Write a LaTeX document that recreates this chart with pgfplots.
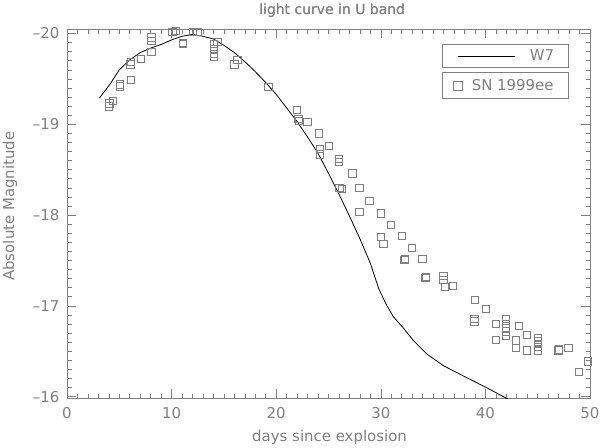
\documentclass[border=0pt]{standalone}
\usepackage{pgfplots}
\pgfplotsset{compat=1.18}
\usepackage{fontspec}
\setmainfont{DejaVu Sans}
\definecolor{fg}{gray}{0.5}
\definecolor{sq}{gray}{0.5}
\newcommand{\lf}{\fontsize{15}{18}\selectfont}
\pgfplotsset{
  myax/.style={
    at={(67bp,50bp)}, anchor=south west,
    scale only axis, width=523bp, height=369bp,
    xmin=0, xmax=50, ymin=-20.05, ymax=-15.985, y dir=reverse,
    xtick={0,10,20,30,40,50}, xticklabels={0,10,20,30,40,50},
    minor x tick num=9,
    ytick={-20,-19,-18,-17,-16},
    yticklabels={\textendash20,\textendash19,\textendash18,\textendash17,\textendash16},
    minor y tick num=9,
    tick align=inside,
    major tick length=9bp, minor tick length=4.5bp,
    axis line style={fg, line width=0.7bp},
    every tick/.style={fg, line width=0.6bp},
    tick label style={font=\lf, text=fg},
    xticklabel style={yshift=-6bp},
    yticklabel style={xshift=-4bp},
    label style={font=\lf, text=fg},
    xlabel={days since explosion},
    ylabel={Absolute Magnitude},
    xlabel style={at={(axis description cs:0.502,-0.106)}, anchor=center},
    ylabel style={at={(axis description cs:-0.109,0.52)}, anchor=center},
    title={light curve in U band},
    title style={at={(axis description cs:0.507,1.033)}, anchor=center, yshift=0pt, font=\fontsize{14}{17}\selectfont, text=fg},
  }
}
\begin{document}
\begin{tikzpicture}
\useasboundingbox (0bp,0bp) rectangle (600bp,448bp);
\begin{axis}[myax,
  legend style={at={(axis description cs:0.96,0.959)}, anchor=north east,
    draw=fg, line width=0.6bp, fill=white, inner sep=0pt,
    nodes={inner sep=0pt, font=\lf, text=fg}},
  legend image code/.code={\path[draw=none, fill=none] (0bp,-11.65bp) rectangle (87bp,11.65bp);
    \draw[black, line width=0.8bp] (15bp,0bp) -- (72bp,0bp);},
]
\addplot[black, line width=0.8bp] coordinates {
(3.1,-19.29) (4.1,-19.44) (5.0,-19.60) (6.0,-19.71) (7.0,-19.79) (8.0,-19.84)
(9.0,-19.88) (10.0,-19.93) (11.0,-19.97) (12.0,-19.99) (13.0,-19.97) (14.0,-19.94)
(15.0,-19.87) (16.0,-19.79) (17.0,-19.69) (18.0,-19.58) (19.0,-19.46) (20.0,-19.33)
(21.0,-19.18) (22.0,-19.03) (23.0,-18.86) (24.0,-18.68) (25.0,-18.46) (26.0,-18.23)
(27.0,-17.99) (28.0,-17.74) (29.0,-17.47) (29.8,-17.19) (30.5,-17.02) (31.2,-16.88)
(32.2,-16.75) (33.1,-16.62) (34.4,-16.47) (36.0,-16.34) (38.2,-16.21) (40.1,-16.10)
(42.2,-15.97) (43.0,-15.92)
};
\addlegendentry{\makebox[39bp][l]{W7}}
\end{axis}
\begin{axis}[myax, hide axis,
  legend style={at={(axis description cs:0.96,0.884)}, anchor=north east,
    draw=fg, line width=0.6bp, fill=white, inner sep=0pt,
    nodes={inner sep=0pt, font=\lf, text=fg}},
  legend image code/.code={\path[draw=none, fill=none] (0bp,-13.3bp) rectangle (29bp,13.3bp);
    \path[draw=sq, line width=0.6bp, only marks, mark=square, mark size=4.5bp] plot coordinates {(15bp,0bp)};},
]
\addplot[only marks, mark=square, mark size=3.65bp, mark options={sq, line width=0.6bp}] coordinates {
(4.0,-19.20) (4.05,-19.23) (4.35,-19.26)
(5.07,-19.42) (5.07,-19.44)
(6.09,-19.49) (6.05,-19.66) (6.09,-19.69)
(7.04,-19.72) (8.06,-19.80) (8.06,-19.92) (8.06,-19.96)
(10.07,-20.02) (10.4,-20.03)
(11.06,-19.90) (11.08,-19.89)
(12.0,-20.02) (12.46,-20.02)
(14.05,-19.89) (14.05,-19.83) (14.05,-19.78) (14.05,-19.74) (14.37,-19.91)
(16.0,-19.66) (16.28,-19.71)
(19.25,-19.41)
(22.0,-19.16) (22.1,-19.06) (22.15,-19.04) (22.97,-19.03)
(24.06,-18.90) (24.19,-18.73) (24.19,-18.67) (25.0,-18.76)
(26.0,-18.62) (26.0,-18.59) (27.28,-18.46)
(26.03,-18.30) (26.26,-18.29) (27.95,-18.30)
(28.9,-18.16) (27.95,-18.04) (29.99,-18.02) (30.98,-17.89)
(29.99,-17.76) (30.24,-17.68) (32.0,-17.77) (32.99,-17.64)
(32.25,-17.51) (32.27,-17.52) (33.97,-17.52)
(34.25,-17.31) (34.28,-17.32)
(35.98,-17.33) (35.98,-17.29) (36.1,-17.21) (36.9,-17.22)
(38.98,-17.07) (40.03,-16.97) (38.94,-16.86) (38.94,-16.83)
(40.98,-16.80) (40.98,-16.63)
(41.97,-16.86) (41.97,-16.80) (41.97,-16.76) (41.97,-16.72) (41.97,-16.67)
(43.21,-16.78) (43.94,-16.68) (42.93,-16.62) (42.93,-16.54) (43.94,-16.51)
(45.0,-16.65) (45.0,-16.61) (45.0,-16.58) (45.0,-16.55) (45.0,-16.51)
(46.97,-16.51) (47.0,-16.52) (47.93,-16.54)
(48.95,-16.27) (49.8,-16.39)
};
\addlegendentry{\makebox[97bp][l]{SN 1999ee}}
\end{axis}
\end{tikzpicture}
\end{document}
